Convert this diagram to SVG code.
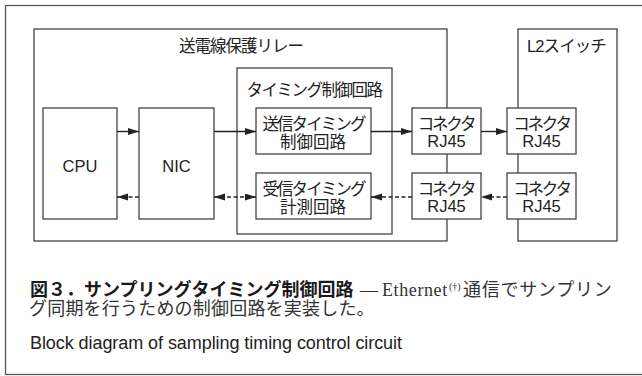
<svg xmlns="http://www.w3.org/2000/svg" width="642" height="376" viewBox="0 0 642 376">
<style>
.frame{fill:none;stroke:#555;stroke-width:1.3}
.box{fill:#fff;stroke:#444;stroke-width:1.3}
.grp{fill:none;stroke:#444;stroke-width:1.3}
.lbl{font-family:"Noto Sans CJK JP",sans-serif;font-size:16.5px;fill:#222;text-anchor:middle}
.jp{font-family:"Noto Sans CJK JP",sans-serif}
.lat{font-family:"Liberation Sans",Arial,sans-serif;letter-spacing:0}
.mix{font-family:"Liberation Sans","Noto Sans CJK JP",sans-serif}
.solid{fill:none;stroke:#222;stroke-width:1.4}
.dash{fill:none;stroke:#222;stroke-width:1.4;stroke-dasharray:4 2.5}
.cap{font-size:18px;fill:#333}
.capb{font-family:"Noto Sans CJK JP",sans-serif;font-weight:bold;fill:#1a1a1a}
.capm{font-family:"Noto Sans CJK JP",serif}
.caps{font-family:"Liberation Serif","Noto Sans CJK JP",serif}
.cape{font-family:"Liberation Sans",Arial,sans-serif;font-size:18px;fill:#222}
</style>
<defs>
<marker id="ah" markerUnits="userSpaceOnUse" markerWidth="12" markerHeight="8" refX="11" refY="3.5" orient="auto-start-reverse">
<path d="M0,0 L11,3.5 L0,7 Z" fill="#222" stroke="none"/>
</marker>
</defs>

<rect class="frame" x="5.5" y="5.5" width="640" height="369"/>

<g id="relay">
<rect class="grp" x="34" y="29" width="413" height="212"/>
<text class="lbl" x="241" y="52" letter-spacing="-1">送電線保護リレー</text>
</g>
<g id="l2switch">
<rect class="grp" x="518" y="29" width="99" height="212"/>
<text class="lbl mix" x="566.5" y="52" letter-spacing="-0.9">L2スイッチ</text>
</g>
<g id="timing">
<rect class="grp" x="237" y="68" width="155" height="166"/>
<text class="lbl" x="314" y="96" letter-spacing="-1.5">タイミング制御回路</text>
</g>
<g id="cpu">
<rect class="box" x="43" y="108" width="74" height="111"/>
<text class="lbl lat" x="80" y="171.5">CPU</text>
</g>
<g id="nic">
<rect class="box" x="139" y="108" width="75" height="111"/>
<text class="lbl lat" x="176.5" y="171.5">NIC</text>
</g>
<g id="tx">
<rect class="box" x="256" y="108" width="115" height="46"/>
<text class="lbl"><tspan x="313.5" y="129.5" letter-spacing="-1.9">送信タイミング</tspan><tspan x="313" y="147.5">制御回路</tspan></text>
</g>
<g id="rx">
<rect class="box" x="256" y="173" width="115" height="46"/>
<text class="lbl"><tspan x="313.5" y="194.5" letter-spacing="-1.9">受信タイミング</tspan><tspan x="313" y="212.5">計測回路</tspan></text>
</g>
<g id="conn1">
<rect class="box" x="412" y="108" width="69" height="46"/>
<text class="lbl"><tspan x="446" y="130" letter-spacing="-2.2">コネクタ</tspan><tspan class="lat" x="446.5" y="146.5">RJ45</tspan></text>
</g>
<g id="conn2">
<rect class="box" x="412" y="173" width="69" height="46"/>
<text class="lbl"><tspan x="446" y="195" letter-spacing="-2.2">コネクタ</tspan><tspan class="lat" x="446.5" y="211.5">RJ45</tspan></text>
</g>
<g id="conn3">
<rect class="box" x="507" y="108" width="69" height="46"/>
<text class="lbl"><tspan x="541.5" y="130" letter-spacing="-2.2">コネクタ</tspan><tspan class="lat" x="541.5" y="146.5">RJ45</tspan></text>
</g>
<g id="conn4">
<rect class="box" x="507" y="173" width="69" height="46"/>
<text class="lbl"><tspan x="541.5" y="195" letter-spacing="-2.2">コネクタ</tspan><tspan class="lat" x="541.5" y="211.5">RJ45</tspan></text>
</g>

<g id="connectors">
<path class="solid" d="M117,131.5 H139" marker-end="url(#ah)"/>
<path class="solid" d="M214,131.5 H256" marker-end="url(#ah)"/>
<path class="solid" d="M371,131.5 H412" marker-end="url(#ah)"/>
<path class="solid" d="M481,131.5 H507" marker-end="url(#ah)"/>
<path class="dash" d="M139,197 H117" marker-end="url(#ah)"/>
<path class="dash" d="M214,197 H256" marker-start="url(#ah)" marker-end="url(#ah)"/>
<path class="dash" d="M412,197 H371" marker-end="url(#ah)"/>
<path class="dash" d="M507,197 H481" marker-end="url(#ah)"/>
</g>

<g id="caption">
<text class="cap"><tspan class="capb" x="30" y="295.5">図３．サンプリングタイミング制御回路</tspan><tspan class="caps" x="360" y="296">—</tspan><tspan class="caps" x="382" y="296" letter-spacing="0.6">Ethernet</tspan><tspan class="caps" x="449" y="289.5" font-size="10">(†)</tspan><tspan class="capm" x="463" y="295.5" letter-spacing="0.75">通信でサンプリン</tspan><tspan class="capm" x="29" y="314.5" letter-spacing="0.2">グ同期を行うための制御回路を実装した。</tspan></text>
<text class="cape" x="30" y="349" textLength="372">Block diagram of sampling timing control circuit</text>
</g>
</svg>
